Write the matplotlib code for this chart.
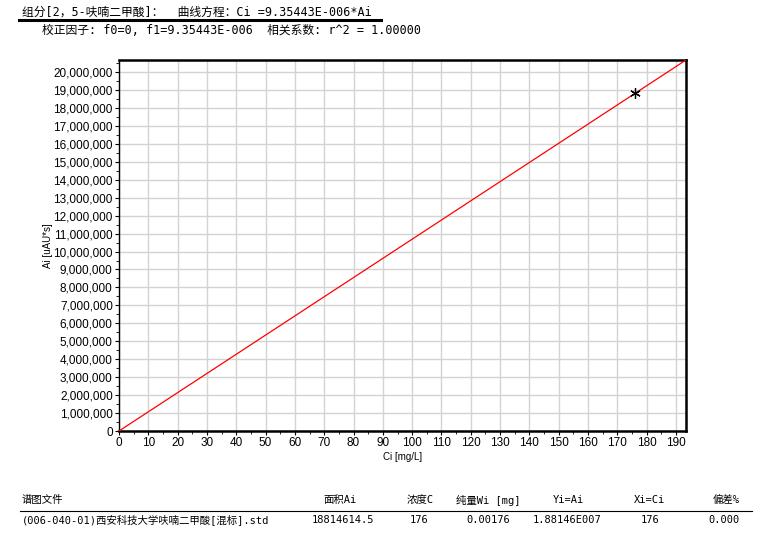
import numpy as np
import matplotlib
matplotlib.use("Agg")
import matplotlib.pyplot as plt
from matplotlib.ticker import FuncFormatter, MultipleLocator

# ---- data ----
f0 = 0.0
f1 = 9.35443e-6
r2 = 1.00000
std_area = [18814614.5]
std_conc = [176]
std_mass = [0.00176]
std_yi = ["1.88146E007"]
std_dev = ["0.000"]
std_file = ["(006-040-01)西安科技大学呋喃二甲酸[混标].std"]
x_ticks = list(range(0, 200, 10))
y_ticks = list(range(0, 21000000, 1000000))
line_conc = np.array([0.0, 200.0])
line_area = (line_conc - f0) / f1

CJK = ['Noto Sans CJK SC', 'DejaVu Sans']
MONO = ['DejaVu Sans Mono', 'Noto Sans CJK SC']
SANS = ['Liberation Sans', 'DejaVu Sans']

fig = plt.figure(figsize=(7.59, 5.44), dpi=100)
ax = fig.add_axes([119/759, 1-431/544, (686-119)/759, (431-60)/544])

xmax = 193.4
ax.set_xlim(0, xmax)
ax.set_ylim(0, xmax / f1)

ax.plot(line_conc, line_area, color='#ff0000', lw=0.9, zorder=3)
ax.plot(std_conc, std_area, linestyle='none', marker=(6, 2, 0), ms=7.5,
        mec='black', mew=0.9, zorder=4)

ax.set_xticks(x_ticks)
ax.set_yticks(y_ticks)
ax.xaxis.set_minor_locator(MultipleLocator(5))
ax.yaxis.set_minor_locator(MultipleLocator(500000))
ax.yaxis.set_major_formatter(FuncFormatter(lambda v, p: f"{int(round(v)):,}"))
ax.grid(True, which='major', color='#d3d3d3', lw=1.0, zorder=0)
ax.tick_params(axis='both', which='major', labelsize=8.5, length=3, width=0.8,
               direction='out', pad=1.5)
ax.tick_params(axis='both', which='minor', length=2, width=0.6, direction='out')
for lab in ax.get_xticklabels() + ax.get_yticklabels():
    lab.set_family(SANS)
ax.spines['left'].set_linewidth(1.0)
ax.spines['bottom'].set_linewidth(1.8)
for s in ['top', 'right']:
    ax.spines[s].set_linewidth(1.8)

ax.set_xlabel("Ci [mg/L]", fontsize=7, labelpad=2, family=SANS)
ax.set_ylabel("Ai [uAU*s]", fontsize=7, labelpad=0, family=SANS)

# ---- header texts ----
fig.text(22/759, 1-12/544, "组分[2，5-呋喃二甲酸]：  曲线方程：Ci =9.35443E-006*Ai",
         family=MONO, fontsize=8.5, va='center', ha='left')
fig.add_artist(plt.Line2D([19/759, 381/759], [1-20/544, 1-20/544], color='black', lw=2.2))
fig.text(42/759, 1-31/544,
         f"校正因子: f0={f0:.0f}, f1=9.35443E-006  相关系数: r^2 = {r2:.5f}",
         family=MONO, fontsize=8.5, va='center', ha='left')

# ---- table ----
hy = 1-500/544
ry = 1-520/544
fs = 7.5
fig.text(22/759, hy, "谱图文件", family=CJK, fontsize=fs, va='center', ha='left')
fig.text(340/759, hy, "面积Ai", family=MONO, fontsize=fs, va='center', ha='center')
fig.text(420/759, hy, "浓度C", family=MONO, fontsize=fs, va='center', ha='center')
fig.text(488/759, hy, "纯量Wi [mg]", family=MONO, fontsize=fs, va='center', ha='center')
fig.text(568/759, hy, "Yi=Ai", family=MONO, fontsize=fs, va='center', ha='center')
fig.text(650/759, hy, "Xi=Ci", family=MONO, fontsize=fs, va='center', ha='center')
fig.text(740/759, hy, "偏差%", family=MONO, fontsize=fs, va='center', ha='right')
fig.add_artist(plt.Line2D([20/759, 752/759], [1-511/544, 1-511/544], color='black', lw=0.8))

fig.text(22/759, ry, std_file[0], family=MONO, fontsize=fs, va='center', ha='left')
fig.text(343/759, ry, f"{std_area[0]:.1f}", family=MONO, fontsize=fs, va='center', ha='center')
fig.text(419/759, ry, f"{std_conc[0]}", family=MONO, fontsize=fs, va='center', ha='center')
fig.text(488/759, ry, f"{std_mass[0]:.5f}", family=MONO, fontsize=fs, va='center', ha='center')
fig.text(567/759, ry, std_yi[0], family=MONO, fontsize=fs, va='center', ha='center')
fig.text(650/759, ry, f"{std_conc[0]}", family=MONO, fontsize=fs, va='center', ha='center')
fig.text(740/759, ry, std_dev[0], family=MONO, fontsize=fs, va='center', ha='right')

fig.savefig("out.png", dpi=100)
